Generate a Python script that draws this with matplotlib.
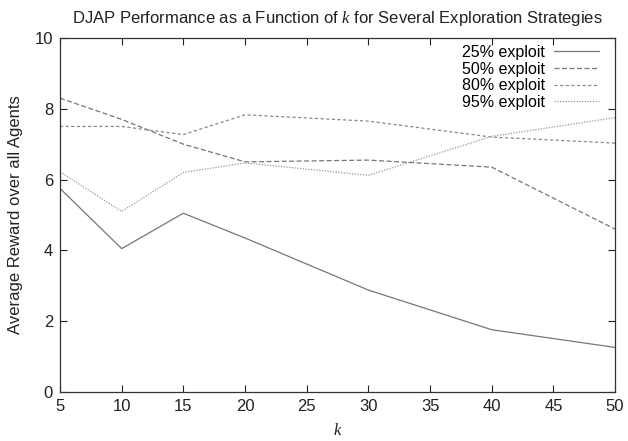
import matplotlib
matplotlib.use("Agg")
import matplotlib.pyplot as plt

k = [5, 10, 15, 20, 30, 40, 50]
exploit25 = [5.75, 4.05, 5.05, 4.35, 2.88, 1.76, 1.26]
exploit50 = [8.3, 7.7, 7.0, 6.5, 6.55, 6.35, 4.6]
exploit80 = [7.5, 7.5, 7.27, 7.83, 7.65, 7.2, 7.03]
exploit95 = [6.22, 5.1, 6.2, 6.47, 6.12, 7.22, 7.75]
labels = ["25% exploit", "50% exploit", "80% exploit", "95% exploit"]

plt.rcParams['font.family'] = ['Liberation Sans', 'DejaVu Sans']
plt.rcParams['mathtext.fontset'] = 'custom'
plt.rcParams['mathtext.it'] = 'Liberation Serif:italic'

fig = plt.figure(figsize=(6.28, 4.41), dpi=100)
ax = fig.add_axes([0.0955, 0.111, 0.884, 0.803])

ax.plot(k, exploit25, color='#777777', lw=0.9, ls='-', label=labels[0])
ax.plot(k, exploit50, color='#777777', lw=0.9, ls=(0, (4, 2)), label=labels[1])
ax.plot(k, exploit80, color='#888888', lw=0.9, ls=(0, (2.5, 2)), label=labels[2])
ax.plot(k, exploit95, color='#999999', lw=0.9, ls=(0, (1, 1.2)), label=labels[3])

ax.set_xlim(5, 50)
ax.set_ylim(0, 10)
ax.set_xticks([5, 10, 15, 20, 25, 30, 35, 40, 45, 50])
ax.set_yticks([0, 2, 4, 6, 8, 10])
ax.tick_params(direction='in', top=True, right=True, length=5, width=0.8,
               labelsize=12, colors='#222222', pad=5)
for s in ax.spines.values():
    s.set_linewidth(0.9)
    s.set_color('#333333')

ax.set_title(r"DJAP Performance as a Function of $k$ for Several Exploration Strategies",
             fontsize=12, pad=11, color='#222222')
ax.set_xlabel(r"$k$", fontsize=12, color='#222222', labelpad=6)
ax.set_ylabel("Average Reward over all Agents", fontsize=12, color='#222222', labelpad=8)

leg = ax.legend(loc='upper right', bbox_to_anchor=(1.0, 1.025), frameon=False,
                fontsize=11.5, markerfirst=False,
                handlelength=2.8, labelspacing=0.1, borderaxespad=0.9, handletextpad=0.6,
                borderpad=0.1)

fig.savefig("out.png", dpi=100)
